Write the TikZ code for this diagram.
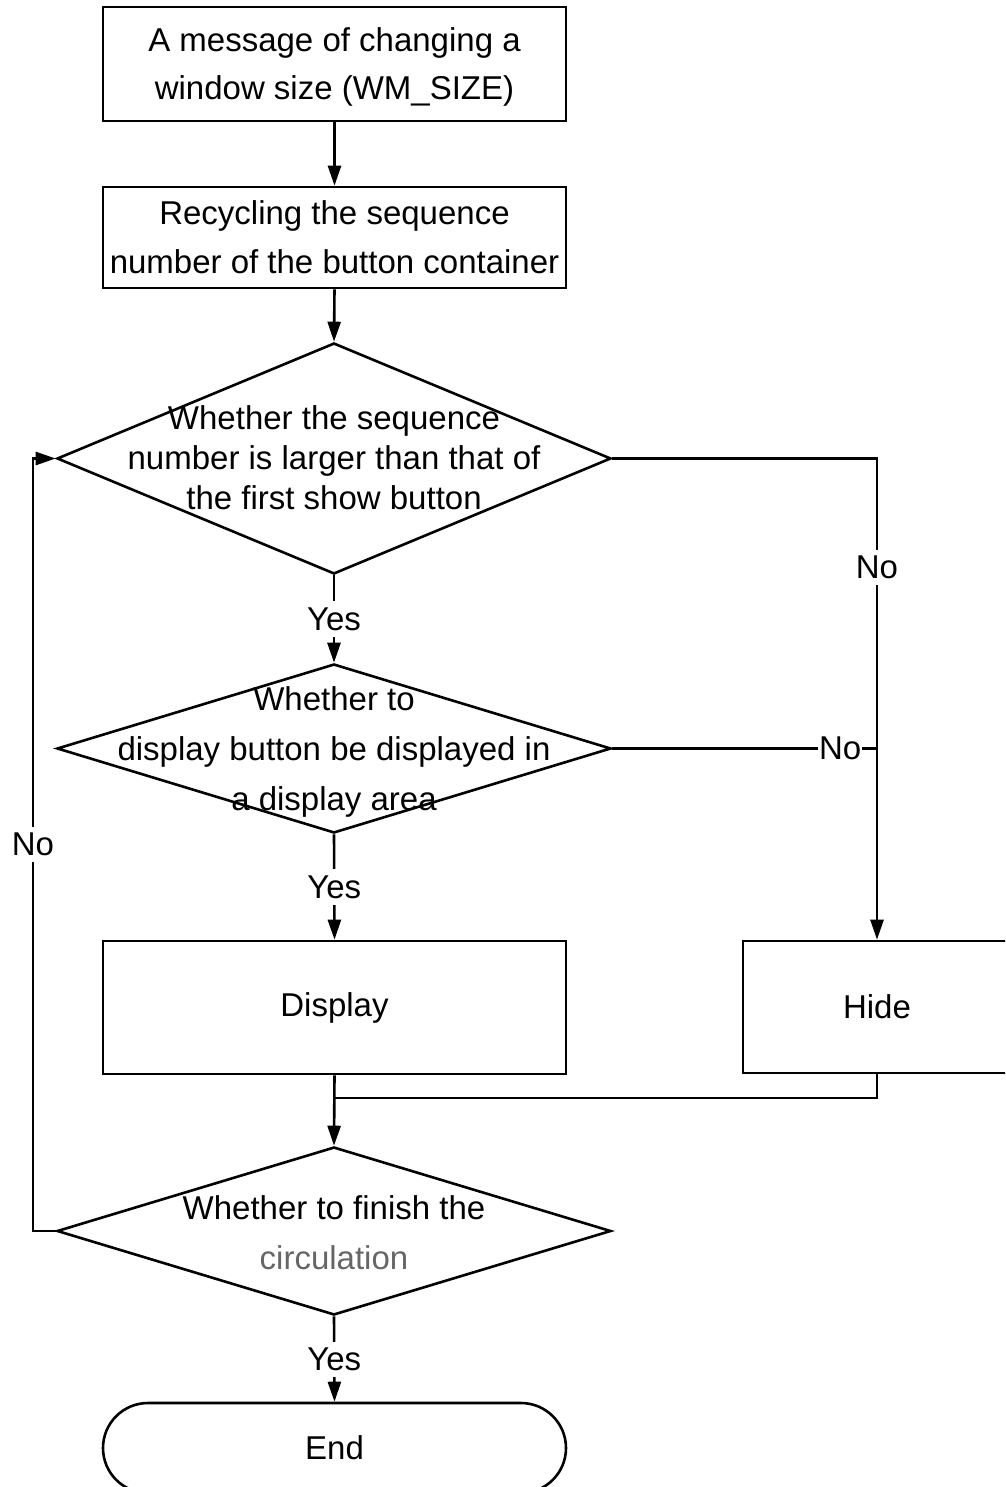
\documentclass[tikz,border=0pt]{standalone}
\usepackage{fontspec}
\setmainfont{Liberation Sans}
\usetikzlibrary{shapes.geometric,arrows.meta}

\tikzset{
  flow/.style={line width=2.6pt},
  arr/.style={flow,-{Triangle[length=20pt,width=13pt]}},
  txt/.style={font=\fontsize{33}{49}\selectfont, align=center},
  procbox/.style={draw, flow, rectangle, inner sep=0pt, minimum width=463pt, txt},
  decision/.style={draw, flow, diamond, inner sep=0pt, minimum width=554pt},
  terminal/.style={draw, flow, rectangle, rounded corners=45pt, inner sep=0pt,
                   minimum width=463pt, minimum height=90pt, txt},
  lab/.style={txt, fill=white, inner xsep=2pt, inner ysep=6pt},
}

\begin{document}
\begin{tikzpicture}[x=1pt, y=-1pt]
\useasboundingbox (0,0) rectangle (1005,1487);
\clip (0,0) rectangle (1005,1487);

% process boxes
\node[procbox, minimum height=114pt] (msg) at (334.5,64) {};
\node[txt, font=\fontsize{33}{48}\selectfont] (msgT) at (334.5,67)
  {A message of changing a\\window size (WM\_SIZE)};
\node[procbox, minimum height=101pt] (recycle) at (334.5,237.5)
  {Recycling the sequence\\number of the button container};

% decisions
\node[decision, minimum height=231pt] (larger) at (334,458.5) {};
\node[txt, font=\fontsize{33}{40}\selectfont] (largerT) at (334,458)
  {Whether the sequence\\number is larger than that of\\the first show button};

\node[decision, minimum height=169pt] (inarea) at (334,748.5) {};
\node[txt, font=\fontsize{33}{50}\selectfont] (inareaT) at (334,752)
  {Whether to\\display button be displayed in\\a display area};

\node[procbox, minimum height=133pt] (show) at (334.5,1007.5) {Display};
\node[procbox, minimum width=268pt, minimum height=132pt] (hide) at (877,1007) {Hide};

\node[decision, minimum height=168pt] (finish) at (334,1231) {};
\node[txt, font=\fontsize{33}{50}\selectfont] (finishT) at (334,1233)
  {Whether to finish the\\\textcolor{black!60}{circulation}};

\node[terminal] (end) at (334.5,1448) {End};

% connectors
\draw[arr] (msg.south) -- (recycle.north);
\draw[arr] (recycle.south) -- (larger.north);
\draw[arr] (larger.south) -- node[lab]{Yes} (inarea.north);
\draw[arr] (inarea.south) -- node[lab]{Yes} (show.north);
\draw[arr] (larger.east) -| node[lab, pos=0.613]{No} (hide.north);
\draw[flow] (inarea.east) -- node[lab, pos=0.861, inner sep=1pt]{No} (inarea.east -| hide.north);

\coordinate (merge) at (show.south |- 0,1098);
\draw[flow] (hide.south) |- (merge);
\draw[arr] (show.south) -- (finish.north);

\coordinate (loop) at (33,1231);
\draw[arr] (finish.west) -- (loop) |- node[lab, pos=0.25]{No} (larger.west);
\draw[arr] (finish.south) -- node[lab]{Yes} (end.north);
\end{tikzpicture}
\end{document}
